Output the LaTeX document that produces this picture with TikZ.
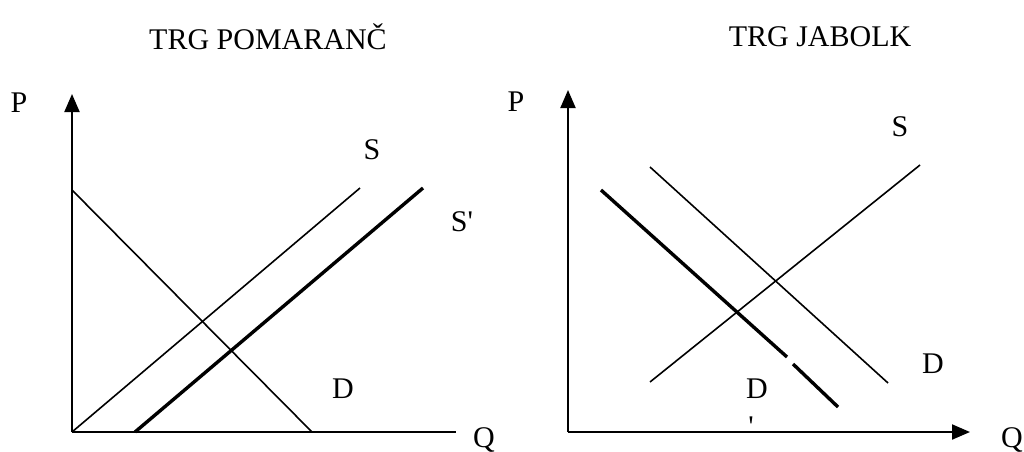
\documentclass[tikz,border=0pt]{standalone}
\usepackage{fontspec}
\setmainfont{Liberation Serif}
\usetikzlibrary{arrows.meta}
\begin{document}
\begin{tikzpicture}[x=1pt,y=-1pt,
  thinline/.style={line width=1.6pt},
  thickline/.style={line width=3.4pt},
  axis/.style={line width=2pt},
  axarrow/.style={axis,-{Triangle[length=18pt,width=15pt]}},
  lbl/.style={font=\fontsize{30}{35}\selectfont, inner sep=0pt}]
\useasboundingbox (0,0) rectangle (1024,451);
% titles
\node[lbl] (t1) at (268,37) {TRG POMARANČ};
\node[lbl] (t2) at (820,37) {TRG JABOLK};
% left chart
\coordinate (o1) at (72,432);
\coordinate (py1) at (72,94);
\coordinate (qx1) at (456,432);
\draw[axarrow] (o1) -- (py1);
\draw[axis] (o1) -- (qx1);
\node[lbl] (p1) at (19,103) {P};
\node[lbl] (q1) at (484,440) {Q};
\coordinate (d1a) at (72,190);
\coordinate (d1b) at (312,432);
\draw[thinline] (d1a) -- (d1b);
\coordinate (s1a) at (72,432);
\coordinate (s1b) at (360,188);
\draw[thinline] (s1a) -- (s1b);
\coordinate (s2a) at (135,432);
\coordinate (s2b) at (423,188);
\draw[thickline] (s2a) -- (s2b);
\node[lbl] (sl) at (372,150) {S};
\node[lbl] (spl) at (462,222) {S\textquotesingle};
\node[lbl] (dl) at (343,389) {D};
% right chart
\coordinate (o2) at (568,432);
\coordinate (py2) at (568,90);
\coordinate (qx2) at (970,432);
\draw[axarrow] (o2) -- (py2);
\draw[axarrow] (o2) -- (qx2);
\node[lbl] (p2) at (516,102) {P};
\node[lbl] (q2) at (1012,440) {Q};
\coordinate (s3a) at (650,382);
\coordinate (s3b) at (920,165);
\draw[thinline] (s3a) -- (s3b);
\coordinate (d3a) at (650,167);
\coordinate (d3b) at (888,383);
\draw[thinline] (d3a) -- (d3b);
\coordinate (d4a) at (601,190);
\coordinate (d4m) at (787,357);
\coordinate (d4n) at (793,364);
\coordinate (d4b) at (838,407);
\draw[thickline] (d4a) -- (d4m);
\draw[thickline] (d4n) -- (d4b);
\node[lbl] (sr) at (900,127) {S};
\node[lbl] (dr) at (933,364) {D};
\node[lbl] (dpr) at (757,389) {D};
\node[lbl] (apr) at (751,427) {\textquotesingle};
\end{tikzpicture}
\end{document}
